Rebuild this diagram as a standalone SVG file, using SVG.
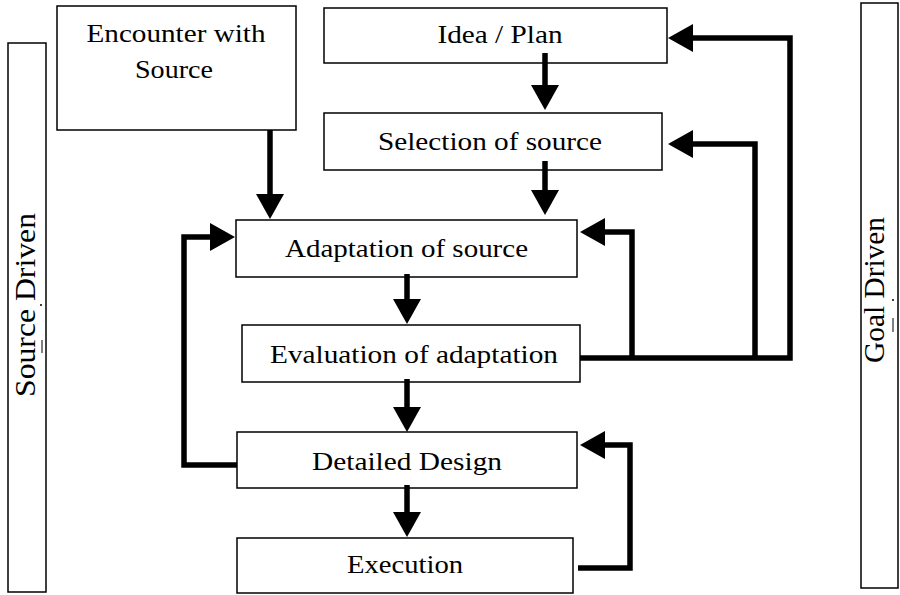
<svg xmlns="http://www.w3.org/2000/svg" width="900" height="595" viewBox="0 0 900 595">
<style>
.box{fill:#fff;stroke:#000;stroke-width:1.5}
.con{fill:none;stroke:#000;stroke-width:5.5;stroke-linejoin:miter;stroke-linecap:butt}
.t{font-family:'Liberation Serif','Times New Roman',serif;fill:#000;text-anchor:middle}
</style>
<defs>
<marker id="ah" viewBox="0 0 25 28" refX="0" refY="14" markerWidth="25" markerHeight="28" markerUnits="userSpaceOnUse" orient="auto">
<path d="M0,0 L25,14 L0,28 z" fill="#000"/>
</marker>
</defs>
<rect width="900" height="595" fill="#fff"/>
<g id="source-driven">
<rect class="box" x="8" y="43" width="38" height="549"/>
<text class="t" font-size="30" transform="translate(35,305) rotate(-90)" textLength="184" lengthAdjust="spacingAndGlyphs">Source Driven</text>
<circle cx="41" cy="305" r="1" fill="#000"/>
<line x1="42" y1="340" x2="42" y2="353" stroke="#000" stroke-width="1"/>
</g>
<g id="goal-driven">
<rect class="box" x="861" y="3" width="37" height="585"/>
<text class="t" font-size="30" transform="translate(884,290) rotate(-90)" textLength="146" lengthAdjust="spacingAndGlyphs">Goal Driven</text>
<circle cx="893" cy="300" r="1" fill="#000"/>
<line x1="893" y1="318" x2="893" y2="332" stroke="#000" stroke-width="1"/>
</g>
<g id="encounter">
<rect class="box" x="57" y="6" width="239" height="124"/>
<text class="t" font-size="26" x="176" y="42" textLength="179" lengthAdjust="spacingAndGlyphs">Encounter with</text>
<text class="t" font-size="26" x="174" y="78" textLength="78" lengthAdjust="spacingAndGlyphs">Source</text>
</g>
<g id="idea">
<rect class="box" x="324" y="8" width="343" height="55"/>
<text class="t" font-size="26" x="500" y="43" textLength="125" lengthAdjust="spacingAndGlyphs">Idea / Plan</text>
</g>
<g id="selection">
<rect class="box" x="324" y="113" width="338" height="57"/>
<text class="t" font-size="26" x="490" y="150" textLength="224" lengthAdjust="spacingAndGlyphs">Selection of source</text>
</g>
<g id="adaptation">
<rect class="box" x="236" y="220" width="341" height="57"/>
<text class="t" font-size="26" x="406.5" y="257" textLength="243" lengthAdjust="spacingAndGlyphs">Adaptation of source</text>
</g>
<g id="evaluation">
<rect class="box" x="242" y="325" width="338" height="57"/>
<text class="t" font-size="26" x="414" y="363" textLength="288" lengthAdjust="spacingAndGlyphs">Evaluation of adaptation</text>
</g>
<g id="detailed">
<rect class="box" x="237" y="432" width="340" height="56"/>
<text class="t" font-size="26" x="407" y="470" textLength="190" lengthAdjust="spacingAndGlyphs">Detailed Design</text>
</g>
<g id="execution">
<rect class="box" x="237" y="538" width="336" height="55"/>
<text class="t" font-size="26" x="405" y="573" textLength="116" lengthAdjust="spacingAndGlyphs">Execution</text>
</g>
<g id="connectors">
<path class="con" d="M270,130 V194" marker-end="url(#ah)"/>
<path class="con" d="M545,53 V85" marker-end="url(#ah)"/>
<path class="con" d="M545,161 V190" marker-end="url(#ah)"/>
<path class="con" d="M407,274 V299" marker-end="url(#ah)"/>
<path class="con" d="M407,379 V407" marker-end="url(#ah)"/>
<path class="con" d="M407,485 V512" marker-end="url(#ah)"/>
<path class="con" d="M580,358 H790 V38 H693" marker-end="url(#ah)"/>
<path class="con" d="M755,358 V144 H693" marker-end="url(#ah)"/>
<path class="con" d="M632,358 V232 H605" marker-end="url(#ah)"/>
<path class="con" d="M578,568 H630 V445 H605" marker-end="url(#ah)"/>
<path class="con" d="M237,465 H184 V237 H210" marker-end="url(#ah)"/>
</g>
</svg>
